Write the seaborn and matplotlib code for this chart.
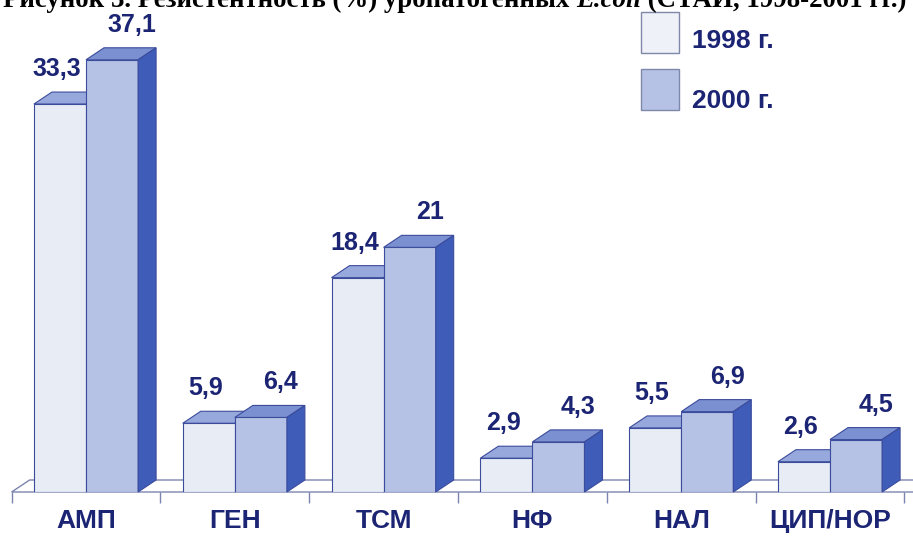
import matplotlib
matplotlib.use("Agg")
import matplotlib.pyplot as plt
from matplotlib.patches import Polygon, Rectangle
from matplotlib.transforms import IdentityTransform
import numpy as np
import pandas as pd
import seaborn as sns

categories = ["АМП", "ГЕН", "ТСМ", "НФ", "НАЛ", "ЦИП/НОР"]
years = ["1998 г.", "2000 г."]
values_1998 = [33.3, 5.9, 18.4, 2.9, 5.5, 2.6]
values_2000 = [37.1, 6.4, 21.0, 4.3, 6.9, 4.5]
title_parts = [("Рисунок 3. Резистентность (%) уропатогенных ", "normal"),
               ("E.coli", "italic"),
               (" (СТАИ, 1998-2001 гг.)", "normal")]

df = pd.DataFrame({
    "cat": categories * 2,
    "year": [years[0]] * 6 + [years[1]] * 6,
    "val": values_1998 + values_2000,
})

front = {years[0]: "#E8ECF5", years[1]: "#B5C2E5"}
top = {years[0]: "#97A8DC", years[1]: "#7A90D0"}
side = "#3E5CB8"
edge = "#3C4C9C"
navy = "#1C2474"
floor_col = "#7C84AE"

sns.set_theme(style="white")
plt.rcParams["font.family"] = ["Liberation Sans", "DejaVu Sans"]

W, H = 913, 538
fig = plt.figure(figsize=(W / 100, H / 100), dpi=100)
ax = fig.add_axes([11.6 / W, 46 / H, 892.8 / W, 466 / H])
sns.barplot(data=df, x="cat", y="val", hue="year", palette=front, width=0.7,
            gap=0, edgecolor=edge, linewidth=0.8, saturation=1, legend=False,
            errorbar=None, ax=ax)
ax.set_xlim(-0.5, 5.5)
ax.set_ylim(0, 40)
ax.set_xlabel("")
ax.set_ylabel("")
ax.set_yticks([])
sns.despine(ax=ax, left=True, bottom=True)

# x ticks: labels at centres, small ticks at group borders
ax.set_xticks(np.arange(-0.5, 6, 1), minor=True)
ax.tick_params(axis="x", which="major", length=0, pad=12,
               labelsize=19, labelcolor=navy)
ax.tick_params(axis="x", which="minor", bottom=True, length=8, width=1,
               color=floor_col, direction="out")
for t in ax.get_xticklabels():
    t.set_fontweight("bold")

DX, DY = 18, 12
ident = IdentityTransform()
off = np.array([DX, DY])


def px(x, y):
    return np.array(ax.transData.transform((x, y)))


def poly(points, color, z):
    ax.add_artist(Polygon(points, closed=True, facecolor=color, edgecolor=edge,
                          linewidth=0.8, transform=ident, zorder=z,
                          clip_on=False))


# floor
f0 = px(-0.5, 0)
f1 = px(5.65, 0)
ax.add_artist(Polygon([f0, f1, f1 + off, f0 + off], closed=True,
                      facecolor="white", edgecolor=floor_col, linewidth=1,
                      transform=ident, zorder=1, clip_on=False))

bars = list(ax.patches)[:12]
for i, p in enumerate(bars):
    yr = years[i // 6]
    x0 = p.get_x()
    x1 = x0 + p.get_width()
    h = p.get_height()
    z = 2 if i < 6 else 4
    p.set_zorder(3 if i < 6 else 4)
    tl, tr = px(x0, h), px(x1, h)
    poly([tl, tr, tr + off, tl + off], top[yr], z)
    b = px(x1, 0)
    poly([b, tr, tr + off, b + off], side, z)
    lab = f"{h:g}".replace(".", ",")
    dx_lab = -3 if i < 6 else 20
    ax.annotate(lab, (x0 + p.get_width() / 2, h),
                xytext=(dx_lab * 0.72, 28 * 0.72), textcoords="offset points",
                ha="center", va="baseline", fontsize=18, fontweight="bold",
                color=navy, zorder=6, annotation_clip=False)

# legend
leg_front = {years[0]: "#EEF1F8", years[1]: front[years[1]]}
for yr, ytop, ybase in [(years[0], 12, 48), (years[1], 69, 108)]:
    fig.add_artist(Rectangle((641 / W, 1 - (ytop + 41) / H), 38 / W, 41 / H,
                             facecolor=leg_front[yr], edgecolor="#8088AA",
                             linewidth=1, transform=fig.transFigure))
    fig.text(692 / W, 1 - ybase / H, yr, ha="left", va="baseline",
             fontsize=19, fontweight="bold", color=navy)

# title, partly cut off at the top edge as in the source picture
renderer = fig.canvas.get_renderer()
texts = []
for s, style in title_parts:
    texts.append(fig.text(0, 1 - 7 / H, s, fontsize=16, fontweight="bold",
                          fontstyle=style, family="Liberation Serif",
                          ha="left", va="baseline", color="black"))
total = sum(t.get_window_extent(renderer).width for t in texts)
size = 16 * 908 / total
x = 3
for t in texts:
    t.set_fontsize(size)
    t.set_x(x / W)
    x += t.get_window_extent(renderer).width

fig.savefig("out.png", dpi=100)
